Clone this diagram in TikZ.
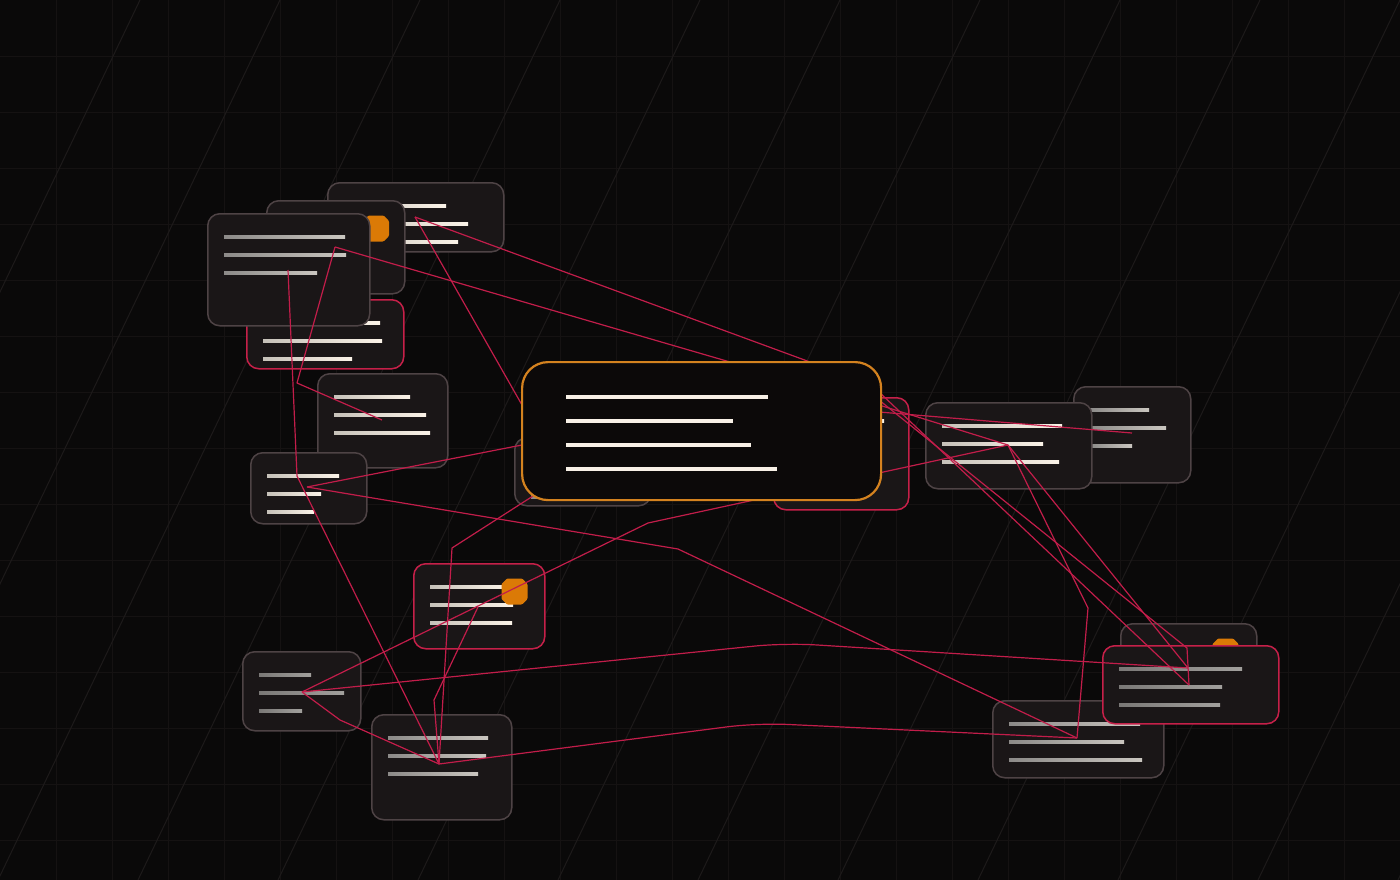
\documentclass[tikz,border=0pt]{standalone}
\definecolor{bgc}{HTML}{0A0909}
\definecolor{gridc}{HTML}{151212}
\definecolor{diagc}{HTML}{1D1A1A}
\definecolor{cardfill}{HTML}{1A1617}
\definecolor{mainfill}{HTML}{0C0909}
\definecolor{greyedge}{HTML}{4E4345}
\definecolor{redge}{HTML}{C62049}
\definecolor{wirec}{HTML}{C21D4A}
\definecolor{orangec}{HTML}{D4821F}
\definecolor{badgec}{HTML}{DB7A06}
\definecolor{hiL}{HTML}{C6C1B9}
\definecolor{hiR}{HTML}{FBF3E8}
\definecolor{mdL}{HTML}{8C8A88}
\definecolor{mdR}{HTML}{CAC6C0}
\definecolor{loL}{HTML}{7A7876}
\definecolor{loR}{HTML}{A2A09D}
\definecolor{mainline}{HTML}{F8F0E6}
\begin{document}
\begin{tikzpicture}[x=1pt, y=-1pt,
  card/.style={fill=cardfill, line width=1.5pt, rounded corners=12pt,
    anchor=north west, inner sep=0pt},
  badge/.pic={\fill[badgec, rounded corners=1pt] (-13,-7.5) -- (-7.5,-13) -- (7.5,-13)
    -- (13,-7.5) -- (13,7.5) -- (7.5,13) -- (-7.5,13) -- (-13,7.5) -- cycle;},
  mainbox/.style={fill=mainfill, draw=orangec, line width=2.2pt,
    rounded corners=26pt, anchor=north west, inner sep=0pt},
  txhi/.style={left color=hiL, right color=hiR},
  txmd/.style={left color=mdL, right color=mdR},
  txlo/.style={left color=loL, right color=loR},
  wire/.style={draw=wirec, line width=1.2pt, line join=round}]
  % background
  \useasboundingbox (0,0) rectangle (1400,880);
  \clip (0,0) rectangle (1400,880);
  \fill[bgc] (0,0) rectangle (1400,880);
  \foreach \g in {56,112,...,1344} \draw[gridc, line width=0.8pt] (\g,0) -- (\g,880);
  \foreach \g in {56,112,...,840} \draw[gridc, line width=0.8pt] (0,\g) -- (1400,\g);
  \foreach \k in {1,...,13} \draw[diagc, line width=1pt] ({140*\k},0) -- ({140*\k-422},880);

  % cards, back ones first
  \foreach \nm/\x/\y/\w/\h/\ed/\tx/\la/\lb/\lc in {
      cA/327/182/176/69/greyedge/txhi/102/124/114,
      cB/266/200/138/93/greyedge/txmd/70/80/60} {
    \node[card, draw=\ed, minimum width=\w pt, minimum height=\h pt] (\nm) at (\x,\y) {};
    \foreach \i/\len in {0/\la, 1/\lb, 2/\lc}
      \shade[\tx] ({\x+17},{\y+22.4+18*\i}) rectangle ++(\len,3.2);
  }
  \pic (bB) at (376,228.5) {badge};
  \foreach \nm/\x/\y/\w/\h/\ed/\tx/\la/\lb/\lc in {
      cD/246/299/157/69/redge/txhi/117/119/89,
      cC/207/213/162/112/greyedge/txmd/121/122/93,
      cE/317/373/130/94/greyedge/txhi/76/92/96,
      cF/250/452/116/71/greyedge/txhi/72/54/47,
      cG/514/437/136/68/greyedge/txmd/100/90/100,
      cH/773/397/135/112/redge/txhi/94/80/70,
      cJ/1073/386/117/96/greyedge/txmd/59/76/42,
      cI/925/402/166/86/greyedge/txhi/120/101/117,
      cP/1120/623/136/80/greyedge/txmd/80/90/70} {
    \node[card, draw=\ed, minimum width=\w pt, minimum height=\h pt] (\nm) at (\x,\y) {};
    \foreach \i/\len in {0/\la, 1/\lb, 2/\lc}
      \shade[\tx] ({\x+17},{\y+22.4+18*\i}) rectangle ++(\len,3.2);
  }
  \pic (bP) at (1225.5,651.5) {badge};
  \foreach \nm/\x/\y/\w/\h/\ed/\tx/\la/\lb/\lc in {
      cR/992/700/171/77/greyedge/txmd/131/115/133,
      cQ/1102/645/176/78/redge/txlo/123/103/101,
      cK/413/563/131/85/redge/txhi/75/83/82,
      cL/242/651/118/79/greyedge/txlo/52/85/43,
      cN/371/714/140/105/greyedge/txmd/100/98/90} {
    \node[card, draw=\ed, minimum width=\w pt, minimum height=\h pt] (\nm) at (\x,\y) {};
    \foreach \i/\len in {0/\la, 1/\lb, 2/\lc}
      \shade[\tx] ({\x+17},{\y+22.4+18*\i}) rectangle ++(\len,3.2);
  }
  \pic (bK) at (514.5,591.5) {badge};

  % ports
  \coordinate (pA) at (415,217);
  \coordinate (pC) at (335,247);
  \coordinate (pC2) at (288,270);
  \coordinate (pE) at (382,420);
  \coordinate (pF) at (307,487);
  \coordinate (pK) at (478,607);
  \coordinate (pL) at (302,692);
  \coordinate (pN) at (439,764);
  \coordinate (pI) at (1008,445);
  \coordinate (pJ) at (1132,433);
  \coordinate (pQ) at (1189,685);
  \coordinate (pQ2) at (1188,668);
  \coordinate (pR) at (1077,738);
  % ports on the main card edge
  \coordinate (mT1) at (730,362);
  \coordinate (mT2) at (810,362);
  \coordinate (mL1) at (522,405);
  \coordinate (mL2) at (522,445);
  \coordinate (mB) at (533,496);
  \coordinate (mR1) at (879,392);
  \coordinate (mR2) at (879,400);
  \coordinate (mR3) at (879,405);
  \coordinate (mR4) at (879,412);

  % connectors
  \draw[wire] (pA) -- (mT2);
  \draw[wire] (pA) -- (mL1);
  \draw[wire] (pC) -- (mT1);
  \draw[wire] (pC) -- (297,383) -- (pE);
  \draw[wire] (pC2) -- (297,476) -- (pN);
  \draw[wire] (pF) -- (mL2);
  \draw[wire] (pF) -- (678,549) -- (pR);
  \draw[wire] (pL) -- (648,523) -- (pI);
  \draw[wire] (pL) -- (340,720) -- (pN);
  \draw[wire, rounded corners=30pt] (pL) -- (785,643) -- (pQ2);
  \draw[wire, rounded corners=30pt] (pN) -- (757,723) -- (pR);
  \draw[wire] (mB) -- (452,548) -- (pN);
  \draw[wire] (pK) -- (434,700) -- (pN);
  \draw[wire] (mR1) -- (pQ);
  \draw[wire] (mR2) -- (1187,648) -- (pQ);
  \draw[wire] (mR3) -- (pI);
  \draw[wire] (mR4) -- (pJ);
  \draw[wire] (pI) -- (1088,608) -- (pR);
  \draw[wire] (pI) -- (pQ2);

  % main card on top
  \node[mainbox, minimum width=359pt, minimum height=138pt] (main) at (521,361) {};
  \foreach \y/\xb in {397/768, 421/733, 445/751, 469/777}
    \fill[mainline] (566,\y-1.7) rectangle (\xb,\y+1.7);
\end{tikzpicture}
\end{document}
